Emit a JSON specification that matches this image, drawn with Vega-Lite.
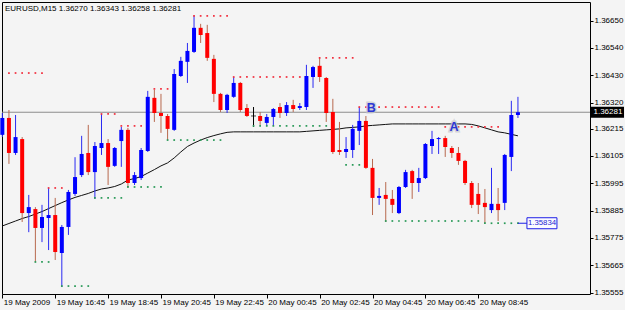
{
"$schema": "https://vega.github.io/schema/vega-lite/v6.json",
"width": 588, "height": 292,
"autosize": {"type": "none"},
"padding": {"left": 2, "top": 2, "right": 35, "bottom": 16},
"background": "#F4F4F4",
"title": {"text": "EURUSD,M15  1.36270 1.36343 1.36258 1.36281", "anchor": "start", "frame": "group", "offset": -17, "dx": 3, "baseline": "alphabetic", "fontSize": 8, "fontWeight": "normal", "font": "Liberation Sans", "color": "#000000"},
"config": {
  "view": {"stroke": "#000000", "strokeWidth": 1, "fill": "#F4F4F4"},
  "font": "Liberation Sans",
  "axis": {"grid": false, "domain": false, "tickColor": "#000000", "labelColor": "#000000", "labelFontSize": 8, "labelFont": "Liberation Sans", "labelFlush": false, "labelOverlap": false}
},
"datasets": {
"bars": [
{"t":"2009-05-19T14:45","o":1.36190,"h":1.36278,"l":1.36181,"c":1.36258,"ma":1.35823},
{"t":"2009-05-19T15:00","o":1.36258,"h":1.36290,"l":1.36073,"c":1.36117,"ma":1.35833,"res":1.36439},
{"t":"2009-05-19T15:15","o":1.36117,"h":1.36270,"l":1.36109,"c":1.36181,"ma":1.35843,"res":1.36439},
{"t":"2009-05-19T15:30","o":1.36173,"h":1.36181,"l":1.35839,"c":1.35875,"ma":1.35853,"res":1.36439},
{"t":"2009-05-19T15:45","o":1.35875,"h":1.35948,"l":1.35798,"c":1.35899,"ma":1.35861,"res":1.36439},
{"t":"2009-05-19T16:00","o":1.35891,"h":1.35899,"l":1.35678,"c":1.35815,"ma":1.35871,"res":1.36439,"sup":1.35678},
{"t":"2009-05-19T16:15","o":1.35815,"h":1.35908,"l":1.35758,"c":1.35859,"ma":1.35881,"res":1.36439,"sup":1.35678},
{"t":"2009-05-19T16:30","o":1.35855,"h":1.35976,"l":1.35726,"c":1.35867,"ma":1.35893,"res":1.35976,"sup":1.35678},
{"t":"2009-05-19T16:45","o":1.35867,"h":1.35936,"l":1.35686,"c":1.35718,"ma":1.35905,"res":1.35976},
{"t":"2009-05-19T17:00","o":1.35714,"h":1.35827,"l":1.35577,"c":1.35819,"ma":1.35917,"res":1.35976,"sup":1.35581},
{"t":"2009-05-19T17:15","o":1.35819,"h":1.35968,"l":1.35787,"c":1.35960,"ma":1.35928,"sup":1.35581},
{"t":"2009-05-19T17:30","o":1.35952,"h":1.36100,"l":1.35944,"c":1.36020,"ma":1.35938,"sup":1.35581},
{"t":"2009-05-19T17:45","o":1.36028,"h":1.36186,"l":1.36020,"c":1.36113,"ma":1.35946,"sup":1.35581},
{"t":"2009-05-19T18:00","o":1.36117,"h":1.36230,"l":1.36028,"c":1.36040,"ma":1.35954,"sup":1.35581},
{"t":"2009-05-19T18:15","o":1.36040,"h":1.36161,"l":1.35932,"c":1.36145,"ma":1.35964,"sup":1.35936},
{"t":"2009-05-19T18:30","o":1.36137,"h":1.36274,"l":1.36109,"c":1.36157,"ma":1.35972,"res":1.36274,"sup":1.35936},
{"t":"2009-05-19T18:45","o":1.36157,"h":1.36173,"l":1.35988,"c":1.36061,"ma":1.35976,"res":1.36274,"sup":1.35936},
{"t":"2009-05-19T19:00","o":1.36065,"h":1.36141,"l":1.36061,"c":1.36137,"ma":1.35982,"res":1.36274,"sup":1.35936},
{"t":"2009-05-19T19:15","o":1.36165,"h":1.36222,"l":1.36061,"c":1.36210,"ma":1.35992,"res":1.36226,"sup":1.35936},
{"t":"2009-05-19T19:30","o":1.36210,"h":1.36218,"l":1.35976,"c":1.35996,"ma":1.36008,"res":1.36226,"sup":1.35980},
{"t":"2009-05-19T19:45","o":1.35996,"h":1.36040,"l":1.35988,"c":1.36028,"ma":1.36014,"res":1.36226,"sup":1.35980},
{"t":"2009-05-19T20:00","o":1.36016,"h":1.36137,"l":1.36008,"c":1.36129,"ma":1.36022,"res":1.36226,"sup":1.35980},
{"t":"2009-05-19T20:15","o":1.36125,"h":1.36367,"l":1.36121,"c":1.36343,"ma":1.36036,"sup":1.35980},
{"t":"2009-05-19T20:30","o":1.36339,"h":1.36371,"l":1.36242,"c":1.36278,"ma":1.36050,"res":1.36375,"sup":1.35980},
{"t":"2009-05-19T20:45","o":1.36278,"h":1.36355,"l":1.36198,"c":1.36266,"ma":1.36065,"res":1.36375,"sup":1.35980},
{"t":"2009-05-19T21:00","o":1.36266,"h":1.36274,"l":1.36169,"c":1.36214,"ma":1.36077,"res":1.36375,"sup":1.36169},
{"t":"2009-05-19T21:15","o":1.36210,"h":1.36455,"l":1.36206,"c":1.36435,"ma":1.36097,"sup":1.36169},
{"t":"2009-05-19T21:30","o":1.36427,"h":1.36504,"l":1.36423,"c":1.36488,"ma":1.36121,"sup":1.36169},
{"t":"2009-05-19T21:45","o":1.36484,"h":1.36560,"l":1.36399,"c":1.36528,"ma":1.36143,"sup":1.36169},
{"t":"2009-05-19T22:00","o":1.36524,"h":1.36669,"l":1.36520,"c":1.36621,"ma":1.36157,"res":1.36669,"sup":1.36169},
{"t":"2009-05-19T22:15","o":1.36621,"h":1.36637,"l":1.36560,"c":1.36592,"ma":1.36169,"res":1.36669,"sup":1.36169},
{"t":"2009-05-19T22:30","o":1.36600,"h":1.36633,"l":1.36488,"c":1.36500,"ma":1.36179,"res":1.36669,"sup":1.36169},
{"t":"2009-05-19T22:45","o":1.36496,"h":1.36512,"l":1.36322,"c":1.36355,"ma":1.36187,"res":1.36669,"sup":1.36169},
{"t":"2009-05-19T23:00","o":1.36355,"h":1.36359,"l":1.36282,"c":1.36290,"ma":1.36194,"res":1.36669,"sup":1.36169},
{"t":"2009-05-19T23:15","o":1.36290,"h":1.36355,"l":1.36278,"c":1.36351,"ma":1.36200,"res":1.36669},
{"t":"2009-05-19T23:30","o":1.36343,"h":1.36423,"l":1.36339,"c":1.36399,"ma":1.36202,"res":1.36423},
{"t":"2009-05-19T23:45","o":1.36399,"h":1.36403,"l":1.36282,"c":1.36290,"ma":1.36202,"res":1.36423},
{"t":"2009-05-20T00:00","o":1.36298,"h":1.36314,"l":1.36262,"c":1.36266,"ma":1.36202,"res":1.36423},
{"t":"2009-05-20T00:15","o":1.36266,"h":1.36302,"l":1.36222,"c":1.36266,"ma":1.36202,"res":1.36423,"sup":1.36226},
{"t":"2009-05-20T00:30","o":1.36266,"h":1.36282,"l":1.36230,"c":1.36246,"ma":1.36202,"res":1.36423,"sup":1.36226},
{"t":"2009-05-20T00:45","o":1.36238,"h":1.36274,"l":1.36226,"c":1.36262,"ma":1.36202,"res":1.36423,"sup":1.36226},
{"t":"2009-05-20T01:00","o":1.36262,"h":1.36298,"l":1.36226,"c":1.36294,"ma":1.36202,"res":1.36423,"sup":1.36226},
{"t":"2009-05-20T01:15","o":1.36302,"h":1.36318,"l":1.36258,"c":1.36278,"ma":1.36202,"res":1.36423,"sup":1.36226},
{"t":"2009-05-20T01:30","o":1.36278,"h":1.36322,"l":1.36266,"c":1.36310,"ma":1.36202,"res":1.36423,"sup":1.36226},
{"t":"2009-05-20T01:45","o":1.36310,"h":1.36331,"l":1.36282,"c":1.36294,"ma":1.36202,"res":1.36423,"sup":1.36226},
{"t":"2009-05-20T02:00","o":1.36298,"h":1.36318,"l":1.36290,"c":1.36306,"ma":1.36202,"res":1.36423,"sup":1.36226},
{"t":"2009-05-20T02:15","o":1.36302,"h":1.36472,"l":1.36290,"c":1.36427,"ma":1.36204,"sup":1.36226},
{"t":"2009-05-20T02:30","o":1.36423,"h":1.36468,"l":1.36379,"c":1.36463,"ma":1.36206,"sup":1.36226},
{"t":"2009-05-20T02:45","o":1.36468,"h":1.36500,"l":1.36403,"c":1.36423,"ma":1.36208,"res":1.36500,"sup":1.36226},
{"t":"2009-05-20T03:00","o":1.36419,"h":1.36423,"l":1.36242,"c":1.36278,"ma":1.36210,"res":1.36500,"sup":1.36226},
{"t":"2009-05-20T03:15","o":1.36282,"h":1.36335,"l":1.36113,"c":1.36121,"ma":1.36212,"res":1.36500},
{"t":"2009-05-20T03:30","o":1.36129,"h":1.36242,"l":1.36109,"c":1.36121,"ma":1.36214,"res":1.36500},
{"t":"2009-05-20T03:45","o":1.36121,"h":1.36181,"l":1.36097,"c":1.36133,"ma":1.36218,"res":1.36500,"sup":1.36069},
{"t":"2009-05-20T04:00","o":1.36129,"h":1.36230,"l":1.36097,"c":1.36214,"ma":1.36220,"res":1.36500,"sup":1.36069},
{"t":"2009-05-20T04:15","o":1.36206,"h":1.36302,"l":1.36149,"c":1.36246,"ma":1.36222,"res":1.36302,"sup":1.36069},
{"t":"2009-05-20T04:30","o":1.36246,"h":1.36266,"l":1.36053,"c":1.36057,"ma":1.36226,"res":1.36302},
{"t":"2009-05-20T04:45","o":1.36057,"h":1.36093,"l":1.35867,"c":1.35936,"ma":1.36228,"res":1.36302},
{"t":"2009-05-20T05:00","o":1.35936,"h":1.35976,"l":1.35908,"c":1.35944,"ma":1.36230,"res":1.36302},
{"t":"2009-05-20T05:15","o":1.35948,"h":1.36000,"l":1.35839,"c":1.35932,"ma":1.36232,"res":1.36302,"sup":1.35843},
{"t":"2009-05-20T05:30","o":1.35932,"h":1.35968,"l":1.35875,"c":1.35908,"ma":1.36234,"res":1.36302,"sup":1.35843},
{"t":"2009-05-20T05:45","o":1.35875,"h":1.35984,"l":1.35871,"c":1.35980,"ma":1.36234,"res":1.36302,"sup":1.35843},
{"t":"2009-05-20T06:00","o":1.35980,"h":1.36049,"l":1.35976,"c":1.36040,"ma":1.36234,"res":1.36302,"sup":1.35843},
{"t":"2009-05-20T06:15","o":1.36044,"h":1.36049,"l":1.35932,"c":1.35996,"ma":1.36234,"res":1.36302,"sup":1.35843},
{"t":"2009-05-20T06:30","o":1.35996,"h":1.36057,"l":1.35960,"c":1.36016,"ma":1.36234,"res":1.36302,"sup":1.35843},
{"t":"2009-05-20T06:45","o":1.36016,"h":1.36157,"l":1.36012,"c":1.36153,"ma":1.36234,"res":1.36302,"sup":1.35843},
{"t":"2009-05-20T07:00","o":1.36145,"h":1.36206,"l":1.36113,"c":1.36173,"ma":1.36234,"res":1.36302,"sup":1.35843},
{"t":"2009-05-20T07:15","o":1.36173,"h":1.36181,"l":1.36113,"c":1.36177,"ma":1.36234,"res":1.36302,"sup":1.35843},
{"t":"2009-05-20T07:30","o":1.36177,"h":1.36186,"l":1.36101,"c":1.36141,"ma":1.36234,"res":1.36222,"sup":1.35843},
{"t":"2009-05-20T07:45","o":1.36137,"h":1.36145,"l":1.36097,"c":1.36117,"ma":1.36234,"res":1.36222,"sup":1.35843},
{"t":"2009-05-20T08:00","o":1.36117,"h":1.36141,"l":1.36069,"c":1.36085,"ma":1.36234,"res":1.36222,"sup":1.35843},
{"t":"2009-05-20T08:15","o":1.36085,"h":1.36089,"l":1.35988,"c":1.35996,"ma":1.36234,"res":1.36222,"sup":1.35843},
{"t":"2009-05-20T08:30","o":1.35996,"h":1.36004,"l":1.35895,"c":1.35908,"ma":1.36232,"res":1.36222,"sup":1.35843},
{"t":"2009-05-20T08:45","o":1.35952,"h":1.35996,"l":1.35871,"c":1.35908,"ma":1.36226,"res":1.36222,"sup":1.35843},
{"t":"2009-05-20T09:00","o":1.35916,"h":1.35972,"l":1.35834,"c":1.35899,"ma":1.36218,"res":1.36222,"sup":1.35834},
{"t":"2009-05-20T09:15","o":1.35887,"h":1.36057,"l":1.35875,"c":1.35912,"ma":1.36210,"res":1.36222,"sup":1.35834},
{"t":"2009-05-20T09:30","o":1.35912,"h":1.35976,"l":1.35843,"c":1.35887,"ma":1.36202,"res":1.36222,"sup":1.35834},
{"t":"2009-05-20T09:45","o":1.35916,"h":1.36113,"l":1.35887,"c":1.36109,"ma":1.36198,"sup":1.35834},
{"t":"2009-05-20T10:00","o":1.36101,"h":1.36327,"l":1.36044,"c":1.36270,"ma":1.36192,"sup":1.35834},
{"t":"2009-05-20T10:15","o":1.36270,"h":1.36343,"l":1.36258,"c":1.36281,"ma":1.36186,"sup":1.35834}
],
"tags": [
{"kind":"cur","label":"1.36281","price":1.36281},
{"kind":"sup","label":"1.35834","price":1.35834,"t":"2009-05-20T10:15"}
],
"letters": [
{"label":"B","t":"2009-05-20T04:42","price":1.36300},
{"label":"A","t":"2009-05-20T07:50","price":1.36220}
]
},
"layer": [
{"data": {"name": "tags"}, "transform": [{"filter": "datum.kind == 'cur'"}],
 "mark": {"type": "rule", "color": "#8C8C8C", "strokeWidth": 1},
 "encoding": {"y": {"field": "price", "type": "quantitative", "title": null,
   "scale": {"domain": [1.35549, 1.36725], "nice": false, "zero": false, "padding": 0},
   "axis": {"orient": "right", "values": [1.3665, 1.3654, 1.3643, 1.3632, 1.36215, 1.36105, 1.35995, 1.35885, 1.35775, 1.35665, 1.35555], "tickCount": 20, "format": ".5f", "tickSize": 3, "labelPadding": 1, "labelBaseline": "middle", "labelOverlap": false, "labelFlush": false, "labelBound": false}}}},
{"data": {"name": "bars"},
 "mark": {"type": "line", "color": "#111111", "strokeWidth": 1},
 "encoding": {
   "x": {"field": "t", "type": "temporal", "title": null,
     "scale": {"domain": [{"year": 2009, "month": 5, "date": 19, "hours": 14, "minutes": 44, "seconds": 15}, {"year": 2009, "month": 5, "date": 20, "hours": 12, "minutes": 58, "seconds": 30}], "nice": false, "padding": 0},
     "axis": {"values": [
       {"year": 2009, "month": 5, "date": 19, "hours": 14, "minutes": 45},
       {"year": 2009, "month": 5, "date": 19, "hours": 16, "minutes": 45},
       {"year": 2009, "month": 5, "date": 19, "hours": 18, "minutes": 45},
       {"year": 2009, "month": 5, "date": 19, "hours": 20, "minutes": 45},
       {"year": 2009, "month": 5, "date": 19, "hours": 22, "minutes": 45},
       {"year": 2009, "month": 5, "date": 20, "hours": 0, "minutes": 45},
       {"year": 2009, "month": 5, "date": 20, "hours": 2, "minutes": 45},
       {"year": 2009, "month": 5, "date": 20, "hours": 4, "minutes": 45},
       {"year": 2009, "month": 5, "date": 20, "hours": 6, "minutes": 45},
       {"year": 2009, "month": 5, "date": 20, "hours": 8, "minutes": 45}],
       "tickCount": 20,
       "labelExpr": "timeFormat(datum.value, '%H:%M') == '14:45' ? '19 May 2009' : timeFormat(datum.value, '%d %b %H:%M')",
       "tickSize": 4, "labelAlign": "left", "labelBaseline": "top", "labelPadding": 0, "labelOffset": 1, "labelOverlap": false, "labelFlush": false}},
   "y": {"field": "ma", "type": "quantitative", "title": null, "scale": {"domain": [1.35549, 1.36725], "nice": false, "zero": false, "padding": 0}}}},
{"data": {"name": "bars"},
 "mark": {"type": "rule", "strokeWidth": 1},
 "encoding": {
   "x": {"field": "t", "type": "temporal", "title": null, "scale": {"domain": [{"year": 2009, "month": 5, "date": 19, "hours": 14, "minutes": 44, "seconds": 15}, {"year": 2009, "month": 5, "date": 20, "hours": 12, "minutes": 58, "seconds": 30}], "nice": false, "padding": 0}},
   "y": {"field": "l", "type": "quantitative", "title": null, "scale": {"domain": [1.35549, 1.36725], "nice": false, "zero": false, "padding": 0}},
   "y2": {"field": "h"},
   "color": {"condition": [{"test": "datum.c > datum.o", "value": "#2A2AF2"}, {"test": "datum.c < datum.o", "value": "#B8694E"}], "value": "#000000"}}},
{"data": {"name": "bars"},
 "mark": {"type": "bar", "width": 4},
 "encoding": {
   "x": {"field": "t", "type": "temporal", "title": null, "scale": {"domain": [{"year": 2009, "month": 5, "date": 19, "hours": 14, "minutes": 44, "seconds": 15}, {"year": 2009, "month": 5, "date": 20, "hours": 12, "minutes": 58, "seconds": 30}], "nice": false, "padding": 0}},
   "y": {"field": "o", "type": "quantitative", "title": null, "scale": {"domain": [1.35549, 1.36725], "nice": false, "zero": false, "padding": 0}},
   "y2": {"field": "c"},
   "color": {"condition": [{"test": "datum.c > datum.o", "value": "#0000FF"}, {"test": "datum.c < datum.o", "value": "#FF0000"}], "value": "#000000"}}},
{"data": {"name": "bars"}, "transform": [{"filter": "abs(datum.c - datum.o) < 0.00001"}],
 "mark": {"type": "tick", "thickness": 1, "size": 5, "color": "#000000"},
 "encoding": {
   "x": {"field": "t", "type": "temporal", "title": null, "scale": {"domain": [{"year": 2009, "month": 5, "date": 19, "hours": 14, "minutes": 44, "seconds": 15}, {"year": 2009, "month": 5, "date": 20, "hours": 12, "minutes": 58, "seconds": 30}], "nice": false, "padding": 0}},
   "y": {"field": "o", "type": "quantitative", "title": null, "scale": {"domain": [1.35549, 1.36725], "nice": false, "zero": false, "padding": 0}}}},
{"data": {"name": "bars"},
 "mark": {"type": "point", "shape": "square", "filled": true, "size": 3, "color": "#F2303F", "opacity": 1},
 "encoding": {
   "x": {"field": "t", "type": "temporal", "title": null, "scale": {"domain": [{"year": 2009, "month": 5, "date": 19, "hours": 14, "minutes": 44, "seconds": 15}, {"year": 2009, "month": 5, "date": 20, "hours": 12, "minutes": 58, "seconds": 30}], "nice": false, "padding": 0}},
   "y": {"field": "res", "type": "quantitative", "title": null, "scale": {"domain": [1.35549, 1.36725], "nice": false, "zero": false, "padding": 0}}}},
{"data": {"name": "bars"},
 "mark": {"type": "point", "shape": "square", "filled": true, "size": 3, "color": "#2A9A58", "opacity": 1},
 "encoding": {
   "x": {"field": "t", "type": "temporal", "title": null, "scale": {"domain": [{"year": 2009, "month": 5, "date": 19, "hours": 14, "minutes": 44, "seconds": 15}, {"year": 2009, "month": 5, "date": 20, "hours": 12, "minutes": 58, "seconds": 30}], "nice": false, "padding": 0}},
   "y": {"field": "sup", "type": "quantitative", "title": null, "scale": {"domain": [1.35549, 1.36725], "nice": false, "zero": false, "padding": 0}}}},
{"data": {"name": "letters"},
 "mark": {"type": "text", "font": "Liberation Sans", "fontSize": 12.5, "fontWeight": "bold", "baseline": "middle", "align": "center", "fill": "#C4C4CC", "stroke": "#C4C4CC", "strokeWidth": 3, "strokeOpacity": 0.7},
 "encoding": {
   "x": {"field": "t", "type": "temporal", "title": null, "scale": {"domain": [{"year": 2009, "month": 5, "date": 19, "hours": 14, "minutes": 44, "seconds": 15}, {"year": 2009, "month": 5, "date": 20, "hours": 12, "minutes": 58, "seconds": 30}], "nice": false, "padding": 0}},
   "y": {"field": "price", "type": "quantitative", "title": null, "scale": {"domain": [1.35549, 1.36725], "nice": false, "zero": false, "padding": 0}},
   "text": {"field": "label"}}},
{"data": {"name": "letters"},
 "mark": {"type": "text", "font": "Liberation Sans", "fontSize": 12.5, "fontWeight": "bold", "baseline": "middle", "align": "center", "color": "#2B36D6"},
 "encoding": {
   "x": {"field": "t", "type": "temporal", "title": null, "scale": {"domain": [{"year": 2009, "month": 5, "date": 19, "hours": 14, "minutes": 44, "seconds": 15}, {"year": 2009, "month": 5, "date": 20, "hours": 12, "minutes": 58, "seconds": 30}], "nice": false, "padding": 0}},
   "y": {"field": "price", "type": "quantitative", "title": null, "scale": {"domain": [1.35549, 1.36725], "nice": false, "zero": false, "padding": 0}},
   "text": {"field": "label"}}},
{"data": {"name": "tags"}, "transform": [{"filter": "datum.kind == 'sup'"}],
 "mark": {"type": "point", "shape": "M0,0H9M9,-5.5H39V5.5H9Z", "size": 4, "filled": false, "fill": "#FAFAFF", "fillOpacity": 1, "stroke": "#1E1EE6", "strokeWidth": 1, "opacity": 1},
 "encoding": {
   "x": {"field": "t", "type": "temporal", "title": null, "scale": {"domain": [{"year": 2009, "month": 5, "date": 19, "hours": 14, "minutes": 44, "seconds": 15}, {"year": 2009, "month": 5, "date": 20, "hours": 12, "minutes": 58, "seconds": 30}], "nice": false, "padding": 0}},
   "y": {"field": "price", "type": "quantitative", "title": null, "scale": {"domain": [1.35549, 1.36725], "nice": false, "zero": false, "padding": 0}}}},
{"data": {"name": "tags"}, "transform": [{"filter": "datum.kind == 'sup'"}],
 "mark": {"type": "text", "font": "Liberation Sans", "fontSize": 7.8, "align": "left", "baseline": "middle", "dx": 10, "color": "#1E1ED2"},
 "encoding": {
   "x": {"field": "t", "type": "temporal", "title": null, "scale": {"domain": [{"year": 2009, "month": 5, "date": 19, "hours": 14, "minutes": 44, "seconds": 15}, {"year": 2009, "month": 5, "date": 20, "hours": 12, "minutes": 58, "seconds": 30}], "nice": false, "padding": 0}},
   "y": {"field": "price", "type": "quantitative", "title": null, "scale": {"domain": [1.35549, 1.36725], "nice": false, "zero": false, "padding": 0}},
   "text": {"field": "label"}}},
{"data": {"name": "tags"}, "transform": [{"filter": "datum.kind == 'cur'"}],
 "mark": {"type": "point", "shape": "M1,-5.5H34V5.5H1Z", "size": 4, "filled": true, "color": "#000000", "opacity": 1, "strokeWidth": 0},
 "encoding": {
   "x": {"value": "width"},
   "y": {"field": "price", "type": "quantitative", "title": null, "scale": {"domain": [1.35549, 1.36725], "nice": false, "zero": false, "padding": 0}}}},
{"data": {"name": "tags"}, "transform": [{"filter": "datum.kind == 'cur'"}],
 "mark": {"type": "text", "font": "Liberation Sans", "fontSize": 8, "align": "left", "baseline": "middle", "dx": 3.5, "color": "#FFFFFF"},
 "encoding": {
   "x": {"value": "width"},
   "y": {"field": "price", "type": "quantitative", "title": null, "scale": {"domain": [1.35549, 1.36725], "nice": false, "zero": false, "padding": 0}},
   "text": {"field": "label"}}}
]
}
